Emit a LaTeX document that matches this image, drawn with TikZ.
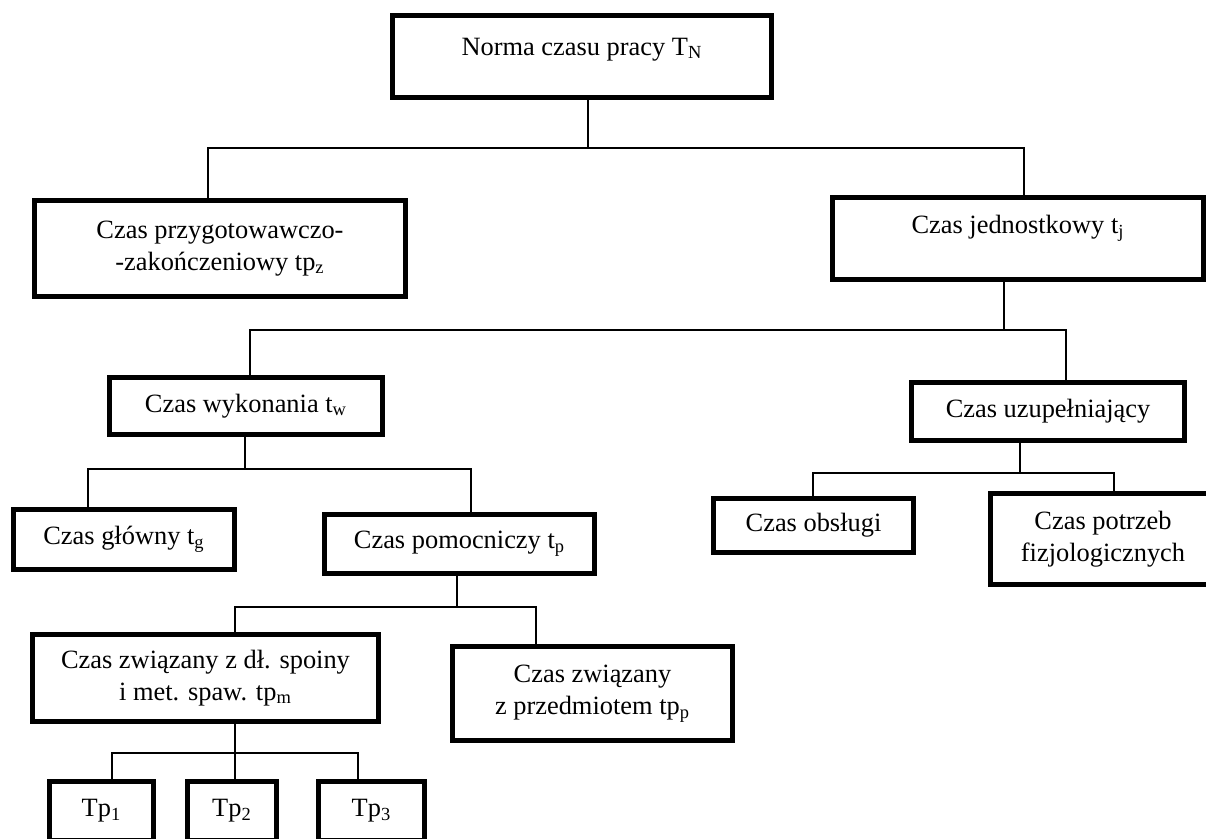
\documentclass[tikz,border=0pt]{standalone}
\usepackage{fontspec}
\setmainfont{Liberation Serif}

\begin{document}
\begin{tikzpicture}[x=0.5pt,y=-0.5pt,thin]
            \tikzset{box/.style={draw, line width=2.5pt, inner sep=0pt, align=center, font=\fontsize{13.2}{16}\selectfont}}
            \tikzset{link/.style={line width=0.75pt}}
            \useasboundingbox (0,0) rectangle (1206,839);
            \node[box, minimum width=189.5pt, minimum height=41pt, text depth=10pt] (TN) at (582,56.5) {Norma czasu pracy T\textsubscript{N}};
            \node[box, minimum width=185.5pt, minimum height=48pt] (tpz) at (220,248.5) {Czas przygotowawczo-\\-zakończeniowy tp\textsubscript{z}};
            \node[box, minimum width=185.5pt, minimum height=41pt, text depth=14pt] (tj) at (1018,238.5) {Czas jednostkowy t\textsubscript{j}};
            \node[box, minimum width=136.5pt, minimum height=28.5pt] (tw) at (246,406) {Czas wykonania t\textsubscript{w}};
            \node[box, minimum width=136.5pt, minimum height=29pt] (uzup) at (1048,411.5) {Czas uzupełniający};
            \node[box, minimum width=110.5pt, minimum height=30pt] (tg) at (124,539.5) {Czas główny t\textsubscript{g}};
            \node[box, minimum width=135pt, minimum height=29.5pt] (tp) at (459.5,544) {Czas pomocniczy t\textsubscript{p}};
            \node[box, minimum width=100pt, minimum height=27pt] (obs) at (813.5,525.5) {Czas obsługi};
            \node[box, minimum width=112.5pt, minimum height=45.5pt] (fiz) at (1103,539) {Czas potrzeb\\fizjologicznych};
            \node[box, minimum width=173pt, minimum height=43.5pt] (tpm) at (205.5,678) {Czas związany z dł. spoiny\\i met. spaw. tp\textsubscript{m}};
            \node[box, minimum width=140pt, minimum height=47pt] (tpp) at (592.5,693.5) {Czas związany\\z przedmiotem tp\textsubscript{p}};
            \node[box, minimum width=52pt, minimum height=29.5pt] (Tp1) at (101.5,811) {Tp\textsubscript{1}};
            \node[box, minimum width=44.5pt, minimum height=29.5pt] (Tp2) at (232,811) {Tp\textsubscript{2}};
            \node[box, minimum width=53pt, minimum height=29.5pt] (Tp3) at (371.5,811) {Tp\textsubscript{3}};
            % branch points
            \coordinate (b1) at (588,148);  \coordinate (b1l) at (208,148);  \coordinate (b1r) at (1024,148);
            \coordinate (b2) at (1004,330); \coordinate (b2l) at (250,330);  \coordinate (b2r) at (1066,330);
            \coordinate (b3) at (245,469);  \coordinate (b3l) at (88,469);   \coordinate (b3r) at (471,469);
            \coordinate (b4) at (457,607);  \coordinate (b4l) at (235,607);  \coordinate (b4r) at (536,607);
            \coordinate (b5) at (235,753);  \coordinate (b5l) at (112,753);  \coordinate (b5r) at (358,753);
            \coordinate (b6) at (1020,473); \coordinate (b6l) at (813,473);  \coordinate (b6r) at (1114,473);
            \draw[link] (TN.south -| b1) -- (b1);
            \draw[link] (tpz.north -| b1l) -- (b1l) -- (b1r) -- (tj.north -| b1r);
            \draw[link] (tj.south -| b2) -- (b2);
            \draw[link] (tw.north -| b2l) -- (b2l) -- (b2r) -- (uzup.north -| b2r);
            \draw[link] (tw.south -| b3) -- (b3);
            \draw[link] (tg.north -| b3l) -- (b3l) -- (b3r) -- (tp.north -| b3r);
            \draw[link] (tp.south -| b4) -- (b4);
            \draw[link] (tpm.north -| b4l) -- (b4l) -- (b4r) -- (tpp.north -| b4r);
            \draw[link] (tpm.south -| b5) -- (Tp2.north -| b5);
            \draw[link] (Tp1.north -| b5l) -- (b5l) -- (b5r) -- (Tp3.north -| b5r);
            \draw[link] (uzup.south -| b6) -- (b6);
            \draw[link] (obs.north -| b6l) -- (b6l) -- (b6r) -- (fiz.north -| b6r);
\end{tikzpicture}
\end{document}
